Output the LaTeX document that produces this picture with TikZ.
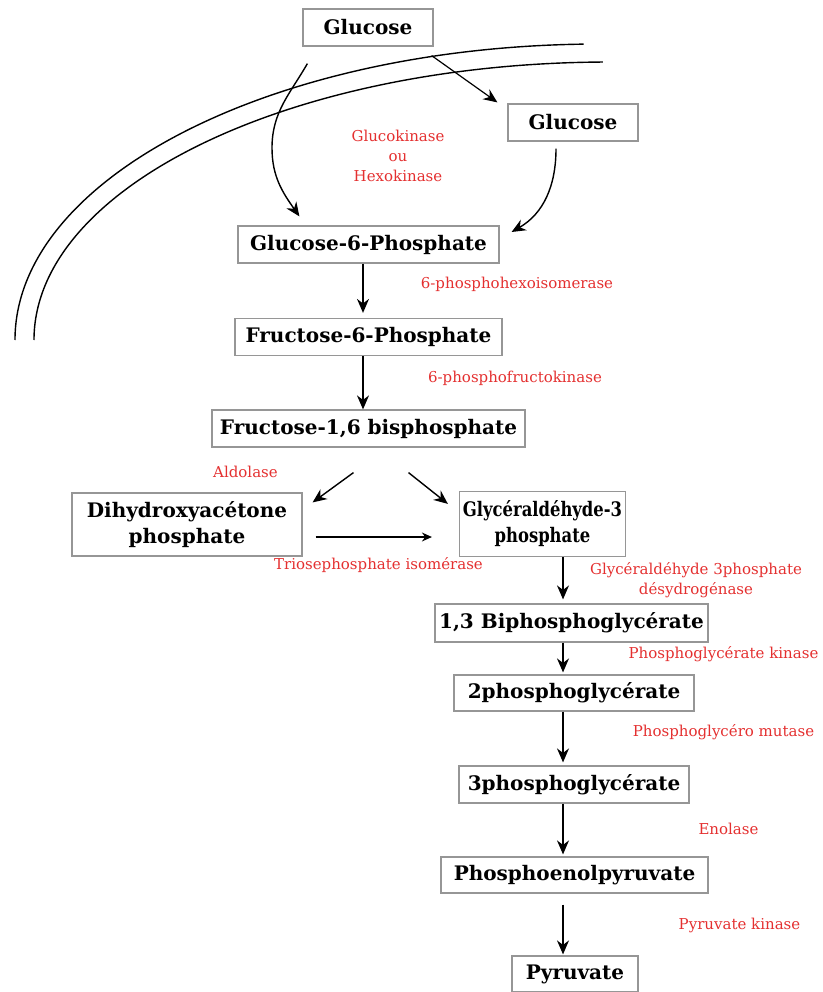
\documentclass[tikz,border=0pt]{standalone}
\usepackage{fontspec}
\setmainfont{DejaVu Serif}
\usepackage{tikz}
\usetikzlibrary{arrows.meta}
\definecolor{enzred}{RGB}{228,48,48}
\definecolor{boxgray}{RGB}{150,150,150}
\newcommand{\narrow}[1]{\scalebox{0.82}[1]{#1}}

\tikzset{
  mol/.style={draw=boxgray,line width=1.2pt,fill=white,inner sep=0pt,
    minimum height=37pt,align=center,font=\fontsize{20}{26}\selectfont\bfseries},
  enz/.style={text=enzred,align=center,inner sep=0pt,font=\fontsize{15}{20}\selectfont},
  arr/.style={line width=1.4pt,-{Stealth[length=14pt,width=12pt]}},
  thinarr/.style={line width=1.4pt,-{Stealth[length=10pt,width=9pt]}},
}

\begin{document}
\begin{tikzpicture}[x=1pt,y=1pt]
        \useasboundingbox (0,0) rectangle (822,-992);
        % membrane
        \draw[line width=1.4pt] (600,-340) ++(91.6:585 and 296)
            arc[start angle=91.6,end angle=180,x radius=585,y radius=296];
        \draw[line width=1.4pt] (610,-340) ++(90.7:576 and 278)
            arc[start angle=90.7,end angle=180,x radius=576,y radius=278];

        % molecules
        \node[mol,minimum width=130pt] (glcout) at (368,-27.5) {Glucose};
        \node[mol,minimum width=130pt] (glcin) at (573,-122.5) {Glucose};
        \node[mol,minimum width=261pt] (g6p) at (368.5,-244.5) {Glucose-6-Phosphate};
        \node[mol,minimum width=267pt] (f6p) at (368.5,-337) {Fructose-6-Phosphate};
        \node[mol,minimum width=313pt] (fbp) at (368.5,-428.5) {Fructose-1,6 bisphosphate};
        \node[mol,minimum width=230pt,minimum height=63pt] (dhap) at (187,-524.5) {Dihydroxyacétone\\phosphate};
        \node[mol,minimum width=166pt,minimum height=65pt] (gap) at (542.5,-524) {\narrow{Glycéraldéhyde-3}\\\narrow{phosphate}};
        \node[mol,minimum width=273pt,minimum height=38pt] (bpg) at (571.5,-623) {1,3 Biphosphoglycérate};
        \node[mol,minimum width=240pt,minimum height=36pt] (pg2) at (574,-693) {2phosphoglycérate};
        \node[mol,minimum width=230pt] (pg3) at (574,-784.5) {3phosphoglycérate};
        \node[mol,minimum width=267pt,minimum height=36pt] (pep) at (574.5,-875) {Phosphoenolpyruvate};
        \node[mol,minimum width=126pt,minimum height=36pt] (pyr) at (575,-974) {Pyruvate};

        % enzymes
        \node[enz] (gk) at (398,-155.5) {Glucokinase\\ou\\Hexokinase};
        \node[enz] (phi) at (517,-284) {6-phosphohexoisomerase};
        \node[enz] (pfk) at (515,-378) {6-phosphofructokinase};
        \node[enz] (ald) at (245.5,-472) {Aldolase};
        \node[enz] (tpi) at (378.5,-565) {Triosephosphate isomérase};
        \node[enz] (gapdh) at (696,-580) {Glycéraldéhyde 3phosphate\\désydrogénase};
        \node[enz] (pgk) at (723.5,-654) {Phosphoglycérate kinase};
        \node[enz] (pgm) at (723.5,-732) {Phosphoglycéro mutase};
        \node[enz] (eno) at (728.5,-829) {Enolase};
        \node[enz] (pk) at (739.5,-925) {Pyruvate kinase};

        % transport and phosphorylation
        \draw[line width=1.2pt,-{Stealth[length=14pt,width=12pt]}] ([xshift=-2pt,yshift=-9pt]glcout.south east) -- ([xshift=-10pt,yshift=1pt]glcin.north west);
        \draw[arr] ([xshift=5pt,yshift=-17pt]glcout.south west) to[out=240,in=90] (272,-148) to[out=270,in=125] ([xshift=62pt,yshift=9pt]g6p.north west);
        \draw[arr] ([xshift=-17pt,yshift=-7pt]glcin.south) to[out=270,in=30] ([xshift=12pt,yshift=12.5pt]g6p.east);

        % upper chain
        \draw[arr,shorten >=5pt] (g6p.south -| 363,0) -- (f6p.north -| 363,0);
        \draw[arr] (f6p.south -| 363,0) -- (fbp.north -| 363,0);
        \draw[arr] ([xshift=-15pt,yshift=-25pt]fbp.south) -- ([xshift=10pt,yshift=-10pt]dhap.north east);
        \draw[arr] ([xshift=40pt,yshift=-25pt]fbp.south) -- ([xshift=-11pt,yshift=-13pt]gap.north west);
        \draw[thinarr] ([xshift=13pt,yshift=-12.5pt]dhap.east) -- ([xshift=-27pt,yshift=-13pt]gap.west);

        % lower chain
        \coordinate (col) at (563,0);
        \draw[arr,shorten >=4pt] (col |- gap.south) -- (col |- bpg.north);
        \draw[arr,shorten >=2pt] (col |- bpg.south) -- (col |- pg2.north);
        \draw[arr,shorten >=3pt] (col |- pg2.south) -- (col |- pg3.north);
        \draw[arr,shorten >=2pt] (col |- pg3.south) -- (col |- pep.north);
        \draw[arr,shorten <=11pt,shorten >=1pt] (col |- pep.south) -- (col |- pyr.north);
\end{tikzpicture}
\end{document}
